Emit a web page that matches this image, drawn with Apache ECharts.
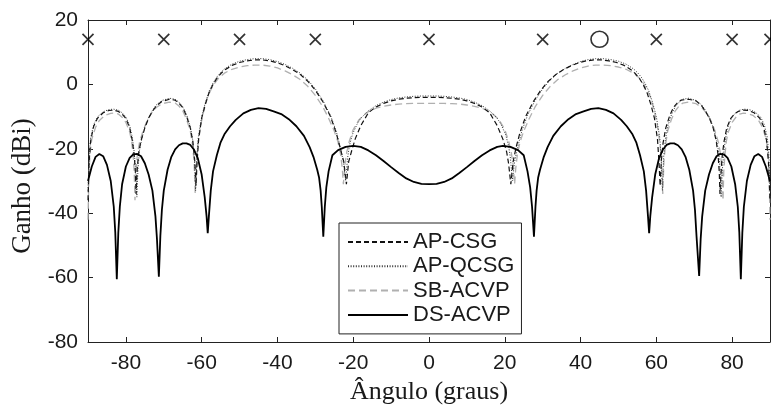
<!DOCTYPE html>
<html>
<head>
<meta charset="utf-8">
<script src="https://cdn.jsdelivr.net/npm/echarts@6/dist/echarts.min.js"></script>
<style>
  html, body { margin: 0; padding: 0; background: #fff; }
  #chart { width: 771px; height: 412px; }
</style>
</head>
<body>
<div id="chart"></div>
<script>
// Axis ticks
const xTicks = [-80, -60, -40, -20, 0, 20, 40, 60, 80];
const yTicks = [20, 0, -20, -40, -60, -80];

// Desired / null directions shown along the top of the plot
const crossAngles = [-90, -70, -50, -30, 0, 30, 60, 80, 90];
const circleAngles = [45];
const markerLevel = 14;

// Radiation patterns: [angle (graus), ganho (dBi)]
const apCsg = [
  [-90,-36],[-89.7,-24],[-89.3,-17.5],[-88.5,-13],[-87.5,-10.5],[-86,-8.8],[-84.5,-8.1],[-83.3,-8.0],
  [-82,-8.4],[-81,-9.2],[-80,-10.6],[-79,-13.5],[-78.3,-17.5],[-77.8,-22],[-77.5,-27],[-77.3,-34],
  [-77.0,-26],[-76.6,-21],[-76,-17.5],[-75,-13.5],[-74,-10.5],[-73,-8.4],[-72,-6.7],[-70.5,-5.3],
  [-68.5,-4.6],[-67,-4.9],[-66,-5.8],[-65,-7.2],[-64,-9.8],[-63,-13.5],[-62.3,-18],[-61.8,-24],
  [-61.5,-31.5],[-61.2,-24],[-60.8,-17],[-60,-10.5],[-59,-6],[-58,-2.4],[-57,0],[-56,1.9],[-55,3.3],
  [-54,4.4],[-52,5.9],[-50,6.8],[-48,7.3],[-46,7.6],[-44,7.6],[-42,7.3],[-40,6.7],[-38,5.8],[-36,4.6],
  [-34,3.1],[-32,1.0],[-30,-1.8],[-28,-5.4],[-26,-10],[-24.5,-15],[-23.5,-19.5],[-22.5,-24],[-21.8,-31],
  [-21.2,-24],[-20.5,-21],[-20,-19],[-19.5,-17],[-18,-12.8],[-16,-8.8],[-14,-7],[-12,-5.9],[-10,-5.1],
  [-8,-4.6],[-6,-4.3],[-4,-4.1],[-2,-4.0],[0,-4.0],
  [2,-4.0],[4,-4.1],[6,-4.3],[8,-4.6],[10,-5.1],[12,-5.9],[14,-7],[16,-8.8],[18,-12.8],[19.5,-17],
  [20,-19],[20.5,-21],[21.0,-24.5],[21.6,-31],[22.2,-24],[23,-19.5],[24,-15],[25.5,-10],[27.5,-5.4],
  [29.5,-1.8],[31.5,1.0],[33.5,3.1],[35.5,4.6],[37.5,5.8],[39.5,6.7],[41.5,7.3],[43.5,7.6],[45.5,7.6],
  [47.5,7.3],[49.5,6.8],[51.5,5.9],[53.5,4.4],[54.5,3.3],[55.5,1.9],[56.5,0],[57.5,-2.4],[58.5,-6],
  [59.5,-10.5],[60.3,-17],[60.7,-24],[61.0,-31.5],[61.3,-24],[61.8,-18],[62.5,-13.5],[63.5,-9.8],
  [64.5,-7.2],[65.5,-5.8],[66.5,-4.9],[68.5,-4.6],[70.5,-5.1],[72,-6.7],[73,-8.4],[74,-10.5],[75,-13.5],
  [75.8,-17.5],[76.3,-22],[76.6,-27],[76.8,-34],[77.1,-27],[77.4,-22],[77.9,-17.5],[78.6,-13.5],
  [79.6,-10.6],[80.6,-9.2],[81.6,-8.4],[83,-8.0],[84.3,-8.1],[85.8,-8.8],[87.3,-10.5],[88.3,-13],
  [89.1,-17.5],[89.6,-24],[90,-36]
];

const apQcsg = [
  [-90,-33],[-89.7,-22],[-89.3,-16.5],[-88.5,-12.5],[-87.5,-10.1],[-86,-8.5],[-84.5,-7.8],[-83.2,-7.7],
  [-82,-8.0],[-81,-8.8],[-80,-10.1],[-79,-12.8],[-78.3,-16.5],[-77.8,-21],[-77.4,-27],[-77.1,-35],
  [-76.8,-26],[-76.4,-20.5],[-75.8,-16.8],[-75,-13.3],[-74,-10.2],[-73,-8.1],[-72,-6.4],[-70.5,-5.0],
  [-68.5,-4.3],[-67,-4.6],[-66,-5.5],[-65,-6.9],[-64,-9.4],[-63,-13],[-62.4,-17],[-61.9,-23],[-61.6,-33],
  [-61.3,-23],[-60.9,-16.5],[-60,-10],[-59,-5.6],[-58,-2.0],[-57,0.4],[-56,2.3],[-55,3.7],[-54,4.8],
  [-52,6.3],[-50,7.2],[-48,7.7],[-46,8.0],[-44,8.0],[-42,7.7],[-40,7.1],[-38,6.2],[-36,5.0],[-34,3.5],
  [-32,1.4],[-30,-1.4],[-28,-5.0],[-26,-9.6],[-24.5,-14.5],[-23.5,-19],[-22.6,-24],[-22.0,-30],
  [-21.5,-23],[-21,-19],[-20.2,-15.5],[-19,-12.4],[-18,-10.5],[-16,-8.2],[-14,-6.6],[-12,-5.5],[-10,-4.7],
  [-8,-4.2],[-6,-3.9],[-4,-3.7],[-2,-3.6],[0,-3.6],
  [2,-3.6],[4,-3.7],[6,-3.9],[8,-4.2],[10,-4.7],[12,-5.5],[14,-6.6],[16,-8.2],[18,-10.5],[19,-12.4],
  [20.2,-15.5],[21,-19],[21.5,-23],[22.0,-30],[22.6,-24],[23.5,-19],[24.5,-14.5],[26,-9.6],[28,-5.0],
  [30,-1.4],[32,1.4],[34,3.5],[36,5.0],[38,6.2],[40,7.1],[42,7.7],[44,8.0],[46,8.0],[48,7.7],[50,7.2],
  [52,6.3],[54,4.8],[55,3.7],[56,2.3],[57,0.4],[58,-2.0],[59,-5.6],[60,-10],[60.9,-16.5],[61.3,-23],
  [61.6,-33],[61.9,-23],[62.4,-17],[63,-13],[64,-9.4],[65,-6.9],[66,-5.5],[67,-4.6],[68.5,-4.3],
  [70.5,-5.0],[72,-6.4],[73,-8.1],[74,-10.2],[75,-13.3],[75.8,-16.8],[76.4,-20.5],[76.8,-26],[77.1,-35],
  [77.4,-27],[77.8,-21],[78.3,-16.5],[79,-12.8],[80,-10.1],[81,-8.8],[82,-8.0],[83.2,-7.7],[84.5,-7.8],
  [86,-8.5],[87.5,-10.1],[88.5,-12.5],[89.3,-16.5],[89.7,-22],[90,-33]
];

const sbAcvp = [
  [-90,-42],[-89.8,-30],[-89.5,-22],[-89,-17],[-88,-13.3],[-87,-11.2],[-85.5,-9.6],[-84,-9.0],[-83,-8.9],
  [-82,-9.2],[-81,-10.2],[-80,-11.8],[-79,-14.8],[-78.5,-17.5],[-78.1,-22],[-77.8,-27],[-77.6,-36],
  [-77.3,-27],[-77,-22],[-76.4,-18],[-75.5,-14.5],[-74.5,-11.5],[-73.5,-9.3],[-72,-7.2],[-70.5,-6.0],
  [-68.5,-5.5],[-67,-5.8],[-66,-6.7],[-65,-8.2],[-64,-10.8],[-63,-14.5],[-62.4,-19],[-62,-24],[-61.7,-34],
  [-61.4,-25],[-61,-19],[-60.3,-13],[-59.5,-8.5],[-58.5,-4.2],[-57.5,-1.5],[-56.5,0.5],[-55.5,2.0],
  [-54,3.5],[-52,4.7],[-50,5.4],[-48,5.8],[-46,6.0],[-44,6.0],[-42,5.7],[-40,5.1],[-38,4.2],[-36,3.0],
  [-34,1.5],[-32,-0.6],[-30,-3.4],[-28,-7],[-26.5,-10.5],[-25,-14.5],[-24,-18],[-23.3,-22],[-22.9,-26],
  [-22.6,-31],[-22.2,-25],[-21.7,-21],[-21,-17.5],[-20,-14],[-18.5,-11],[-16.5,-8.8],[-14,-7.4],
  [-12,-6.8],[-10,-6.4],[-8,-6.1],[-6,-6.0],[-4,-5.9],[-2,-5.9],[0,-5.9],
  [2,-5.9],[4,-5.9],[6,-6.0],[8,-6.1],[10,-6.4],[12,-6.8],[14,-7.4],[16.5,-8.8],[18.5,-11],[20,-14],
  [21,-17.5],[21.7,-21],[22.2,-25],[22.6,-31],[22.9,-26],[23.3,-22],[24,-18],[25,-14.5],[26.5,-10.5],
  [28,-7],[30,-3.4],[32,-0.6],[34,1.5],[36,3.0],[38,4.2],[40,5.1],[42,5.7],[44,6.0],[46,6.0],[48,5.8],
  [50,5.4],[52,4.7],[54,3.5],[55.5,2.0],[56.5,0.5],[57.5,-1.5],[58.5,-4.2],[59.5,-8.5],[60.3,-13],
  [61,-19],[61.4,-25],[61.7,-34],[62,-24],[62.4,-19],[63,-14.5],[64,-10.8],[65,-8.2],[66,-6.7],[67,-5.8],
  [68.5,-5.5],[70.5,-6.0],[72,-7.2],[73.5,-9.3],[74.5,-11.5],[75.5,-14.5],[76.4,-18],[77,-22],[77.3,-27],
  [77.6,-36],[77.8,-27],[78.1,-22],[78.5,-17.5],[79,-14.8],[80,-11.8],[81,-10.2],[82,-9.2],[83,-8.9],
  [84,-9.0],[85.5,-9.6],[87,-11.2],[88,-13.3],[89,-17],[89.5,-22],[89.8,-30],[90,-42]
];

const dsAcvp = [
  [-90,-30],[-89,-25.5],[-88,-22.5],[-87,-21.6],[-86,-22.3],[-85,-25],[-84,-30],[-83.2,-38],[-82.8,-46],
  [-82.4,-60.5],[-82.0,-46],[-81.6,-38],[-81,-31],[-80,-25.5],[-79,-22.8],[-78,-21.7],[-77,-21.6],
  [-76,-22.3],[-75,-24.5],[-74,-28],[-73,-33],[-72.2,-41],[-71.8,-48],[-71.3,-59.7],[-70.9,-47],
  [-70.5,-39],[-70,-33],[-69,-26.5],[-68,-22.5],[-67,-20.2],[-66,-18.9],[-65,-18.3],[-64,-18.3],
  [-63,-18.8],[-62,-20.3],[-61,-23],[-60,-28],[-59.2,-35],[-58.7,-41],[-58.4,-46.2],[-58.1,-41],
  [-57.6,-33],[-57,-27],[-56,-22],[-55,-18],[-54,-15.5],[-52.5,-13],[-51,-11],[-49,-9],[-47,-7.9],
  [-45,-7.4],[-43,-7.6],[-41,-8.4],[-39,-9.2],[-37,-10.8],[-35,-13],[-33,-16],[-31.5,-19.5],[-30.5,-22.5],
  [-29.5,-26.5],[-29,-29],[-28.6,-33],[-28.3,-38],[-27.9,-47.3],[-27.5,-38],[-27.1,-32],[-26.5,-27],
  [-25.5,-22],[-24,-20.4],[-22,-19.4],[-20,-19.1],[-18,-19.4],[-16,-20.5],[-14,-22],[-12,-23.8],
  [-10,-25.7],[-8,-27.5],[-6,-29.2],[-4,-30.3],[-2,-30.9],[0,-31],
  [2,-30.9],[4,-30.3],[6,-29.2],[8,-27.5],[10,-25.7],[12,-23.8],[14,-22],[16,-20.5],[18,-19.4],
  [19.5,-19.1],[21.5,-19.4],[23.5,-20.4],[25,-22],[26,-27],[26.7,-32],[27.2,-38],[27.7,-47.3],
  [28.1,-38],[28.4,-33],[28.8,-29],[29.3,-26.5],[30.3,-22.5],[31.3,-19.5],[32.8,-16],[34.8,-13],
  [36.8,-10.8],[38.8,-9.2],[40.8,-8.4],[42.8,-7.6],[44.7,-7.4],[46.7,-7.9],[48.7,-9],[50.7,-11],
  [52.2,-13],[53.7,-15.5],[54.7,-18],[55.7,-22],[56.7,-27],[57.3,-33],[57.8,-41],[58.1,-46.2],
  [58.4,-41],[58.9,-35],[59.7,-28],[60.7,-23],[61.7,-20.3],[62.7,-18.8],[63.7,-18.3],[64.7,-18.3],
  [65.7,-18.9],[66.7,-20.2],[67.7,-22.5],[68.7,-26.5],[69.7,-33],[70.2,-39],[70.6,-47],[71.3,-59.5],
  [71.7,-48],[72.1,-41],[72.9,-33],[73.9,-28],[74.9,-24.5],[75.9,-22.3],[76.8,-21.6],[77.8,-21.7],
  [78.8,-22.8],[79.8,-25.5],[80.8,-31],[81.5,-38],[81.9,-46],[82.3,-60.5],[82.7,-46],[83.1,-38],
  [83.9,-30],[84.9,-25],[85.9,-22.3],[86.9,-21.6],[87.9,-22.5],[88.9,-25.5],[90,-30]
];

const textColor = '#1a1a1a';
const sansFont = '"Liberation Sans", Arial, sans-serif';
const serifFont = '"Liberation Serif", "Times New Roman", serif';

const chart = echarts.init(document.getElementById('chart'), null, { renderer: 'canvas' });

// Box frame: all four axis lines stay on the plot edges
const frameAxisLine = { show: true, onZero: false, lineStyle: { color: '#222', width: 1 } };
const innerTicks = { inside: true, length: 5, lineStyle: { color: '#222', width: 1 } };

const option = {
  animation: false,
  backgroundColor: '#fff',
  grid: { left: 88, right: 1, top: 20, bottom: 70, containLabel: false },
  legend: {
    orient: 'vertical',
    left: 339, top: 223,
    data: ['AP-CSG', 'AP-QCSG', 'SB-ACVP', 'DS-ACVP'],
    backgroundColor: '#fff',
    borderColor: '#222', borderWidth: 1, borderRadius: 0,
    padding: [8, 7, 8, 8],
    itemWidth: 60, itemHeight: 14, itemGap: 2.3,
    itemStyle: { color: 'transparent', borderColor: 'transparent', borderWidth: 0 },
    textStyle: { fontFamily: sansFont, fontSize: 22, color: textColor },
    selectedMode: false
  },
  xAxis: [
    {
      type: 'value', min: -90, max: 90, position: 'bottom',
      axisLine: frameAxisLine,
      axisTick: Object.assign({ customValues: xTicks }, innerTicks),
      axisLabel: { customValues: xTicks, fontFamily: sansFont, fontSize: 21, color: textColor, margin: 11 },
      splitLine: { show: false },
      name: 'Ângulo (graus)', nameLocation: 'middle', nameGap: 36,
      nameTextStyle: { fontFamily: serifFont, fontSize: 26, color: textColor }
    },
    {
      type: 'value', min: -90, max: 90, position: 'top',
      axisLine: frameAxisLine,
      axisTick: Object.assign({ customValues: xTicks }, innerTicks),
      axisLabel: { show: false },
      splitLine: { show: false }
    }
  ],
  yAxis: [
    {
      type: 'value', min: -80, max: 20, interval: 20, position: 'left',
      axisLine: frameAxisLine,
      axisTick: Object.assign({ customValues: yTicks }, innerTicks),
      axisLabel: { customValues: yTicks, fontFamily: sansFont, fontSize: 21, color: textColor, margin: 10 },
      splitLine: { show: false },
      name: 'Ganho (dBi)', nameLocation: 'middle', nameGap: 50, nameRotate: 90,
      nameTextStyle: { fontFamily: serifFont, fontSize: 27, color: textColor, padding: [0, 10, 0, 0] }
    },
    {
      type: 'value', min: -80, max: 20, interval: 20, position: 'right',
      axisLine: frameAxisLine,
      axisTick: Object.assign({ customValues: yTicks }, innerTicks),
      axisLabel: { show: false },
      splitLine: { show: false }
    }
  ],
  series: [
    {
      name: 'AP-CSG', type: 'line', data: apCsg, symbol: 'none', z: 3,
      lineStyle: { color: '#111', width: 1.2, type: [5, 3] },
      itemStyle: { color: '#111' }
    },
    {
      name: 'AP-QCSG', type: 'line', data: apQcsg, symbol: 'none', z: 3,
      lineStyle: { color: '#333', width: 1, type: [1, 1.6] },
      itemStyle: { color: '#333' }
    },
    {
      name: 'SB-ACVP', type: 'line', data: sbAcvp, symbol: 'none', z: 2,
      lineStyle: { color: '#b0b0b0', width: 1.3, type: [7, 4] },
      itemStyle: { color: '#b0b0b0' }
    },
    {
      name: 'DS-ACVP', type: 'line', data: dsAcvp, symbol: 'none', z: 4,
      lineStyle: { color: '#000', width: 1.8 },
      itemStyle: { color: '#000' }
    },
    {
      name: 'nulos', type: 'scatter', clip: false, z: 5,
      data: crossAngles.map(a => [a, markerLevel]),
      symbol: 'path://M0,0L10,10M10,0L0,10', symbolSize: 11,
      itemStyle: { color: 'none', borderColor: '#000', borderWidth: 1.7 },
      silent: true
    },
    {
      name: 'desejado', type: 'scatter', clip: false, z: 5,
      data: circleAngles.map(a => [a, markerLevel]),
      symbol: 'circle', symbolSize: [17, 16],
      itemStyle: { color: 'none', borderColor: '#000', borderWidth: 1.6 },
      silent: true
    }
  ]
};

chart.setOption(option);
</script>
</body>
</html>
